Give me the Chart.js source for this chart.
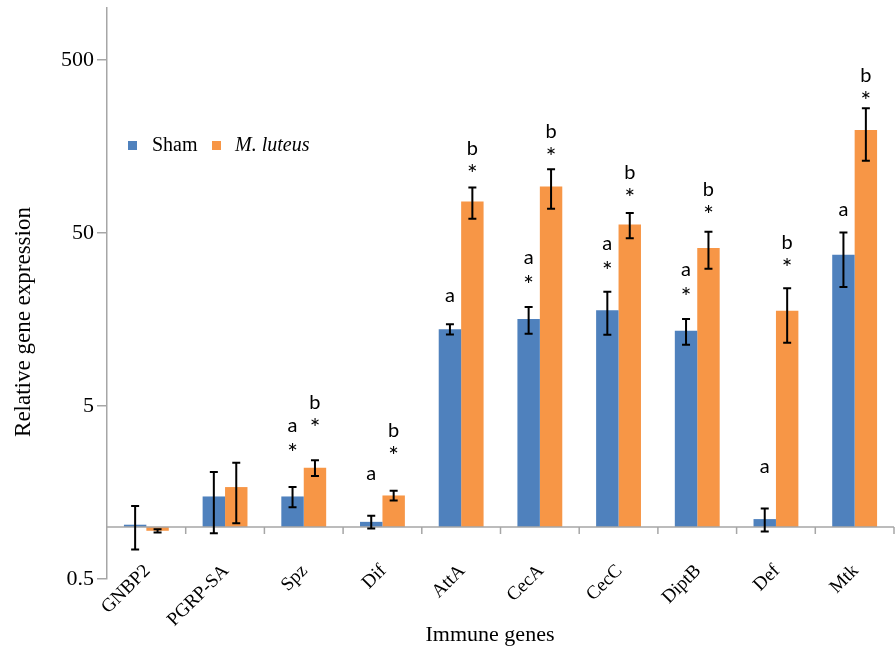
<!DOCTYPE html>
<html>
<head>
<meta charset="utf-8">
<script src="https://cdn.jsdelivr.net/npm/chart.js@4.4.1/dist/chart.umd.min.js"></script>
<style>
  html, body { margin: 0; padding: 0; background: #fff; }
  #wrap { width: 896px; height: 650px; }
</style>
</head>
<body>
<div id="wrap"><canvas id="chart"></canvas></div>
<script>
const genes = ['GNBP2', 'PGRP-SA', 'Spz', 'Dif', 'AttA', 'CecA', 'CecC', 'DiptB', 'Def', 'Mtk'];
const shamMean = [1.03, 1.50, 1.50, 1.07, 13.9, 15.9, 17.9, 13.6, 1.11, 37.4];
const shamErr = [0.29, 0.58, 0.20, 0.09, 0.95, 2.8, 5.0, 2.3, 0.17, 13];
const luteusMean = [0.95, 1.70, 2.20, 1.52, 76, 93, 56, 41, 17.8, 197];
const luteusErr = [0.02, 0.65, 0.23, 0.10, 15.6, 24, 9.3, 9.9, 6.2, 66];
const shamLetters = ['', '', 'a', 'a', 'a', 'a', 'a', 'a', 'a', 'a'];
const shamStars = [false, false, true, false, false, true, true, true, false, false];
const luteusLetters = ['', '', 'b', 'b', 'b', 'b', 'b', 'b', 'b', 'b'];
const luteusStars = [false, false, true, true, true, true, true, true, true, true];
const yTicks = [0.5, 5, 50, 500];

const SERIF = '"Liberation Serif", "Times New Roman", serif';
const SANS = 'Lato, "Open Sans", sans-serif';
const AXIS_GREY = '#a6a6a6';

const overlay = {
    id: 'overlay',
    afterDatasetsDraw(chart) {
        const { ctx, chartArea, scales } = chart;
        const xs = scales.x, ys = scales.y;

        // category axis drawn where y = 1
        const y1 = ys.getPixelForValue(1);
        const step = (chartArea.right - chartArea.left) / genes.length;
        ctx.save();
        ctx.strokeStyle = AXIS_GREY;
        ctx.lineWidth = 1.5;
        ctx.beginPath();
        ctx.moveTo(chartArea.left, y1);
        ctx.lineTo(chartArea.right, y1);
        for (let k = 1; k <= genes.length; k++) {
            const x = chartArea.left + k * step;
            ctx.moveTo(x, y1);
            ctx.lineTo(x, y1 + 7);
        }
        ctx.stroke();

        // error bars and significance marks
        chart.data.datasets.forEach((ds, di) => {
            const meta = chart.getDatasetMeta(di);
            meta.data.forEach((bar, i) => {
                const v = ds.data[i], e = ds.errors[i];
                const top = ys.getPixelForValue(v + e);
                const bot = ys.getPixelForValue(v - e);
                ctx.strokeStyle = '#000';
                ctx.lineWidth = 2;
                ctx.beginPath();
                ctx.moveTo(bar.x, top); ctx.lineTo(bar.x, bot);
                ctx.moveTo(bar.x - 4, top); ctx.lineTo(bar.x + 4, top);
                ctx.moveTo(bar.x - 4, bot); ctx.lineTo(bar.x + 4, bot);
                ctx.stroke();

                const lines = [];
                if (ds.stars[i]) lines.push('*');
                if (ds.letters[i]) lines.push(ds.letters[i]);
                let cy = top - (12 + (top - 100) * 0.07);
                ctx.fillStyle = '#000';
                ctx.textAlign = 'center';
                ctx.textBaseline = 'alphabetic';
                lines.forEach(t => {
                    if (t === '*') {
                        ctx.font = '25px ' + SANS;
                        ctx.fillText(t, bar.x, cy + 14);
                    } else {
                        ctx.font = '20px ' + SANS;
                        ctx.fillText(t, bar.x, cy + (t === 'b' ? 7 : 5));
                    }
                    cy -= 21;
                });
            });
        });

        // category labels
        ctx.font = '19px ' + SERIF;
        ctx.fillStyle = '#000';
        ctx.textAlign = 'right';
        ctx.textBaseline = 'middle';
        genes.forEach((g, i) => {
            const x = xs.getPixelForValue(i);
            ctx.save();
            ctx.translate(x + 1, 568);
            ctx.rotate(-Math.PI / 4);
            ctx.fillText(g, 0, 0);
            ctx.restore();
        });

        // axis titles
        ctx.font = '22px ' + SERIF;
        ctx.textAlign = 'center';
        ctx.fillText('Immune genes', 490, 635);
        ctx.save();
        ctx.translate(24, 322);
        ctx.rotate(-Math.PI / 2);
        ctx.font = '23px ' + SERIF;
        ctx.fillText('Relative gene expression', 0, 0);
        ctx.restore();

        // legend
        ctx.textAlign = 'left';
        ctx.fillStyle = chart.data.datasets[0].backgroundColor;
        ctx.fillRect(128, 141, 9, 9);
        ctx.fillStyle = chart.data.datasets[1].backgroundColor;
        ctx.fillRect(212, 141, 9, 9);
        ctx.fillStyle = '#000';
        ctx.font = '20px ' + SERIF;
        ctx.fillText(chart.data.datasets[0].label, 152, 146);
        ctx.font = 'italic 20px ' + SERIF;
        ctx.fillText(chart.data.datasets[1].label, 235, 146);
        ctx.restore();
    }
};

new Chart(document.getElementById('chart'), {
    type: 'bar',
    data: {
        labels: genes,
        datasets: [
            { label: 'Sham', data: shamMean, errors: shamErr, letters: shamLetters, stars: shamStars,
              backgroundColor: '#4F81BD', base: 1 },
            { label: 'M. luteus', data: luteusMean, errors: luteusErr, letters: luteusLetters, stars: luteusStars,
              backgroundColor: '#F79646', base: 1 }
        ]
    },
    options: {
        responsive: true,
        maintainAspectRatio: false,
        animation: false,
        layout: { padding: { top: 8, right: 2, bottom: 0, left: 0 } },
        datasets: { bar: { categoryPercentage: 0.57, barPercentage: 1 } },
        plugins: { legend: { display: false }, tooltip: { enabled: false } },
        scales: {
            x: {
                ticks: { display: false },
                grid: { display: false },
                border: { display: false },
                afterFit: s => { s.height = 71; }
            },
            y: {
                type: 'logarithmic',
                min: 0.5,
                max: 1000,
                afterBuildTicks: s => { s.ticks = yTicks.map(v => ({ value: v })); },
                afterFit: s => { s.width = 107; s.paddingTop = 0; s.paddingBottom = 0; },
                ticks: {
                    font: { family: SERIF, size: 22 },
                    color: '#000',
                    padding: 3,
                    callback: v => String(v)
                },
                grid: { drawOnChartArea: false, tickLength: 10, color: AXIS_GREY, lineWidth: 1.5 },
                border: { color: AXIS_GREY, width: 1.5 }
            }
        }
    },
    plugins: [overlay]
});
</script>
</body>
</html>
